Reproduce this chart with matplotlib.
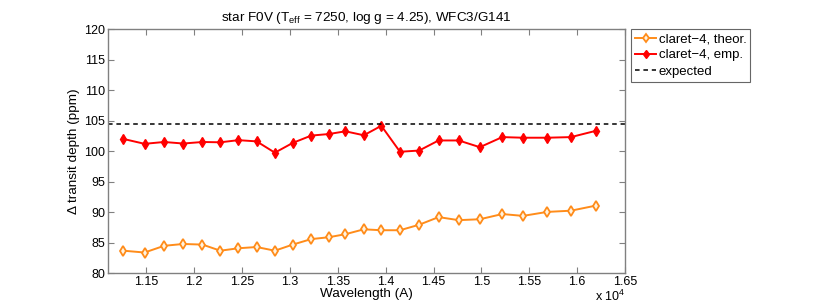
import matplotlib
matplotlib.use("Agg")
import matplotlib.pyplot as plt
from matplotlib.ticker import FuncFormatter, FixedLocator

plt.rcParams['font.family'] = ['Liberation Sans', 'DejaVu Sans']

wavelength = [11261, 11482, 11686, 11886, 12087, 12273, 12463, 12653, 12843,
              13030, 13223, 13405, 13580, 13772, 13955, 14150, 14350, 14553,
              14763, 14984, 15218, 15435, 15687, 15935, 16201]
theor = [83.7, 83.4, 84.5, 84.8, 84.7, 83.7, 84.1, 84.3, 83.7,
         84.7, 85.6, 85.9, 86.4, 87.2, 87.05, 87.05, 87.95, 89.2,
         88.7, 88.85, 89.7, 89.4, 90.05, 90.25, 91.1]
emp = [102.0, 101.2, 101.5, 101.25, 101.5, 101.45, 101.8, 101.6, 99.75,
       101.35, 102.55, 102.8, 103.25, 102.6, 104.15, 99.9, 100.1, 101.75,
       101.75, 100.65, 102.3, 102.2, 102.2, 102.3, 103.35]
expected = 104.4

x_ticks = [11500, 12000, 12500, 13000, 13500, 14000, 14500, 15000, 15500, 16000, 16500]
y_ticks = [80, 85, 90, 95, 100, 105, 110, 115, 120]

fig = plt.figure(figsize=(8.3, 3.08), dpi=100)
ax = fig.add_axes([0.1301, 0.1127, 0.6229, 0.7931])

orange = '#FF8C1A'
l1, = ax.plot(wavelength, theor, '-', color=orange, lw=1.4, marker='d', ms=5.5,
              mfc='#FFF3E0', mec=orange, mew=1.3, label='claret\u22124, theor.')
l2, = ax.plot(wavelength, emp, '-', color='#FF0000', lw=1.4, marker='d', ms=5.5,
              mfc='#FF0000', mec='#FF0000', label='claret\u22124, emp.')
l3 = ax.axhline(expected, color='black', ls=(0, (3, 2.5)), lw=1.1, label='expected')

ax.set_xlim(11100, 16500)
ax.set_ylim(80, 120)
ax.xaxis.set_major_locator(FixedLocator(x_ticks))
ax.yaxis.set_major_locator(FixedLocator(y_ticks))
ax.xaxis.set_major_formatter(FuncFormatter(lambda v, p: f"{v/1e4:g}"))

gray = '#808080'
for s in ax.spines.values():
    s.set_color(gray)
    s.set_linewidth(1.0)
ax.tick_params(direction='in', length=4, width=0.8, color=gray, labelsize=9,
               top=True, right=True, labelcolor='black', pad=2)

ax.set_xlabel('Wavelength (A)', fontsize=9.7, labelpad=0)
ax.set_ylabel('\u0394 transit depth (ppm)', fontsize=9.7, labelpad=3)
ax.set_title(r'star F0V (T$_{\mathregular{eff}}$ = 7250, log g = 4.25), WFC3/G141',
             fontsize=9.7, pad=6)

fig.text(595 / 830, 0.012, r'x 10$^{\mathregular{4}}$', fontsize=9, ha='left', va='bottom')

leg = fig.legend(handles=[l1, l2, l3], loc='upper left',
                 bbox_to_anchor=(631 / 830, 1 - 29 / 308), fontsize=9.5,
                 frameon=True, fancybox=False, borderpad=0.3, labelspacing=0.3,
                 handlelength=1.6, handletextpad=0.2, borderaxespad=0,
                 markerscale=0.8)
leg.get_frame().set_edgecolor('#404040')
leg.get_frame().set_linewidth(0.8)

fig.savefig('out.png', dpi=100)
